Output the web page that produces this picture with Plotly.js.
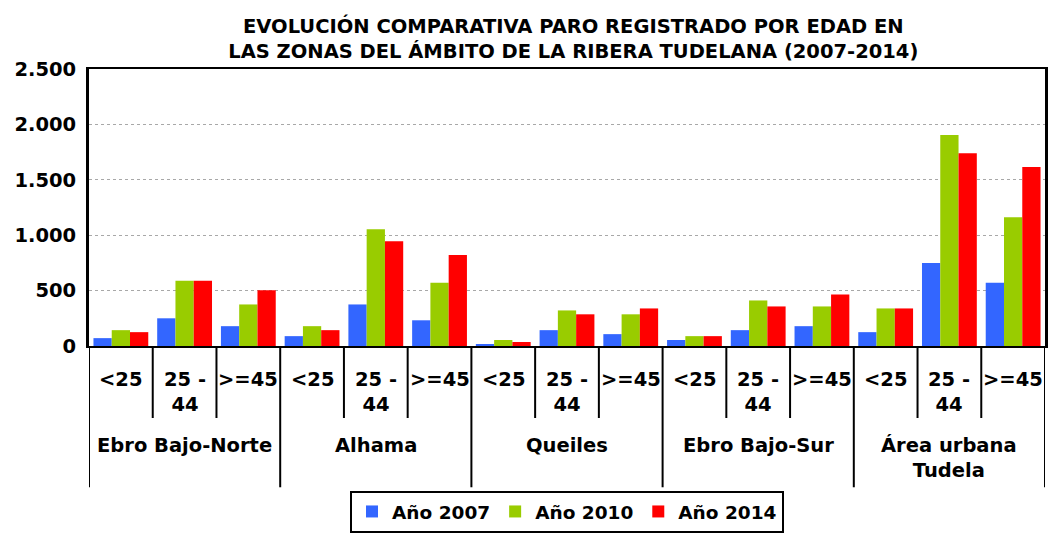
<!DOCTYPE html>
<html>
<head>
<meta charset="utf-8">
<script src="https://cdn.plot.ly/plotly-3.0.1.min.js"></script>
<style>html,body{margin:0;padding:0;background:#fff;}#chart{width:1050px;height:534px;}</style>
</head>
<body>
<div id="chart"></div>
<script>
var zones = ["Ebro Bajo-Norte", "Alhama", "Queiles", "Ebro Bajo-Sur", "Área urbana<br>Tudela"];
var ages = ["<25", "25 -<br>44", ">=45"];
var seriesNames = ["Año 2007", "Año 2010", "Año 2014"];
var y2007 = [71, 250, 179, 89, 375, 232, 18, 143, 107, 54, 143, 179, 125, 750, 571];
var y2010 = [143, 589, 375, 179, 1054, 571, 54, 321, 286, 89, 411, 357, 339, 1905, 1161];
var y2014 = [125, 589, 503, 143, 946, 821, 36, 286, 339, 89, 357, 464, 339, 1740, 1615];
var colors = ["#3366FF", "#99CC00", "#FF0000"];
var yTicks = [0, 500, 1000, 1500, 2000, 2500];

var n = zones.length * ages.length;
var xs = [];
for (var i = 0; i < n; i++) xs.push(i);

var allY = [y2007, y2010, y2014];
var traces = allY.map(function (vals, k) {
  return {
    type: "bar", x: xs, y: vals, name: seriesNames[k],
    marker: {color: colors[k], line: {width: 0}}, hoverinfo: "y"
  };
});

var F = "DejaVu Sans, Verdana, sans-serif";
var annotations = [];
var shapes = [];
var yAge = -0.072, yZone = -0.31, yInnerEnd = -0.26, yOuterEnd = -0.51;
for (var z = 0; z < zones.length; z++) {
  for (var a = 0; a < ages.length; a++) {
    var idx = z * ages.length + a;
    annotations.push({
      x: idx, xref: "x", y: yAge, yref: "paper", yanchor: "top", showarrow: false,
      text: "<b>" + ages[a] + "</b>", font: {family: F, size: 19.5, color: "#000"}, align: "center"
    });
    if (a > 0) {
      shapes.push({type: "line", xref: "x", yref: "paper", x0: idx - 0.5, x1: idx - 0.5, y0: 0, y1: yInnerEnd,
        line: {color: "#000", width: 2}});
    }
  }
  annotations.push({
    x: z * ages.length + (ages.length - 1) / 2, xref: "x", y: yZone, yref: "paper", yanchor: "top", showarrow: false,
    text: "<b>" + zones[z] + "</b>", font: {family: F, size: 19.5, color: "#000"}, align: "center"
  });
  shapes.push({type: "line", xref: "x", yref: "paper", x0: z * ages.length - 0.5, x1: z * ages.length - 0.5,
    y0: 0, y1: yOuterEnd, line: {color: "#000", width: 2}});
}
shapes.push({type: "line", xref: "x", yref: "paper", x0: n - 0.5, x1: n - 0.5, y0: 0, y1: yOuterEnd,
  line: {color: "#000", width: 2}});

var layout = {
  width: 1050, height: 534,
  margin: {l: 89, r: 5, t: 69, b: 188},
  paper_bgcolor: "#fff", plot_bgcolor: "#fff",
  font: {family: F, color: "#000"},
  separators: ",.",
  title: {
    text: "<b>EVOLUCIÓN COMPARATIVA PARO REGISTRADO POR EDAD EN<br>LAS ZONAS DEL ÁMBITO DE LA RIBERA TUDELANA (2007-2014)</b>",
    font: {family: F, size: 19.5, color: "#000"}, x: 0.546, xanchor: "center",
    yref: "container", y: 0.938, yanchor: "middle", automargin: false
  },
  barmode: "group", bargap: 0.14, bargroupgap: 0,
  showlegend: true,
  legend: {
    orientation: "h", x: 0.5, xref: "paper", xanchor: "center",
    yref: "container", y: 0.002, yanchor: "bottom",
    bordercolor: "#000", borderwidth: 2, font: {family: F, size: 18.5, color: "#000", weight: "bold"},
    itemwidth: 30, tracegroupgap: 0
  },
  xaxis: {
    range: [-0.5, n - 0.5], showticklabels: false, ticks: "", showgrid: false, zeroline: false,
    showline: true, linecolor: "#000", linewidth: 2, mirror: true, fixedrange: true
  },
  yaxis: {
    range: [0, 2500], tickvals: yTicks, tickformat: ",d", showgrid: true, gridcolor: "#a8a8a8", gridwidth: 1,
    griddash: "dot", zeroline: false, showline: true, linecolor: "#000", linewidth: 3, mirror: true,
    ticks: "", tickfont: {family: F, size: 19.5, color: "#000", weight: "bold"}, ticklabelstandoff: 6, fixedrange: true
  },
  annotations: annotations,
  shapes: shapes
};

Plotly.newPlot("chart", traces, layout, {displayModeBar: false, staticPlot: true});
</script>
</body>
</html>
